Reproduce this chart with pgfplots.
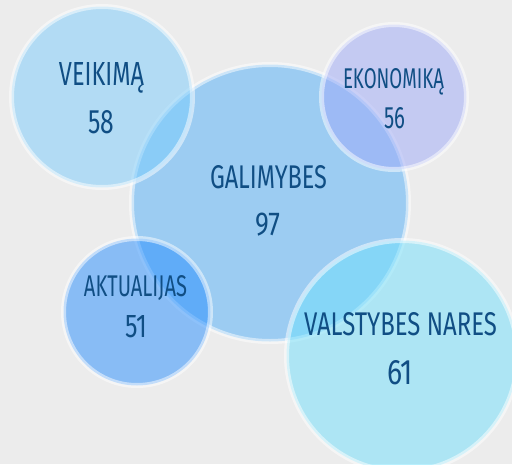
\documentclass[border=0pt]{standalone}
\usepackage{pgfplots}
\pgfplotsset{compat=1.18}
\usepackage{fontspec}
\setmainfont{Fira Sans}
\definecolor{bg}{RGB}{236,236,236}
\definecolor{txt}{RGB}{16,78,132}
\definecolor{cGal}{RGB}{78,174,248}
\definecolor{cVei}{RGB}{122,204,252}
\definecolor{cEko}{RGB}{158,170,248}
\definecolor{cAkt}{RGB}{38,142,255}
\definecolor{cVal}{RGB}{112,224,252}
\newcommand{\lbl}[3]{\resizebox{#1pt}{#2pt}{\color{txt}#3}}
\pgfplotsset{bubble/.style 2 args={only marks, mark=*, mark size=#1,
  mark options={fill=#2, fill opacity=0.5, draw=white, draw opacity=0.5, line width=5pt}}}
\begin{document}
\begin{tikzpicture}
\begin{axis}[scale only axis, width=512pt, height=464pt,
  xmin=0, xmax=512, ymin=0, ymax=464, y dir=reverse,
  axis line style={draw=none}, ticks=none,
  axis background/.style={fill=bg},
  clip marker paths=true]
% bubbles: centre (x,y) in px, radius in px
\addplot[bubble={138.5}{cGal}] coordinates {(270,203)};   % GALIMYBES 97
\addplot[bubble={90.5}{cVei}]  coordinates {(102,97)};    % VEIKIMA 58
\addplot[bubble={72.5}{cEko}]  coordinates {(394,97)};    % EKONOMIKA 56
\addplot[bubble={73.5}{cAkt}]  coordinates {(137,312)};   % AKTUALIJAS 51
\addplot[bubble={115.5}{cVal}] coordinates {(402,356)};   % VALSTYBES NARES 61
\begin{scope}[every node/.style={anchor=base, inner sep=0pt, font=\fontsize{30}{30}\selectfont}]
\node at (axis cs:101.5,85)  {\lbl{85}{23}{VEIKIMĄ}};
\node at (axis cs:101,133)   {\lbl{26}{23}{58}};
\node at (axis cs:268.5,188) {\lbl{117}{23}{GALIMYBES}};
\node at (axis cs:267.5,235) {\lbl{25}{22.5}{97}};
\node at (axis cs:393.5,88)  {\lbl{101}{20}{EKONOMIKĄ}};
\node at (axis cs:394.5,128) {\lbl{21}{21}{56}};
\node at (axis cs:135.5,296) {\lbl{103}{21}{AKTUALIJAS}};
\node at (axis cs:136,337)   {\lbl{22}{22}{51}};
\node at (axis cs:400.5,335) {\lbl{193}{23}{VALSTYBES NARES}};
\node at (axis cs:400,384)   {\lbl{26}{24}{61}};
\end{scope}
\end{axis}
\pgfresetboundingbox
\useasboundingbox (current axis.south west) rectangle (current axis.north east);
\end{tikzpicture}
\end{document}
